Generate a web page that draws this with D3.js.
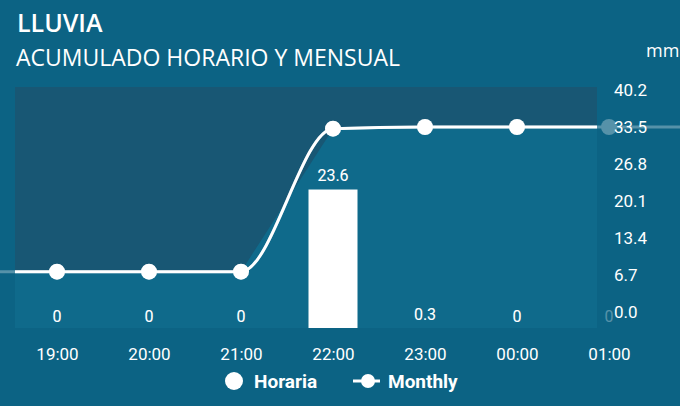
<!DOCTYPE html>
<html>
<head>
<meta charset="utf-8">
<script src="https://cdn.jsdelivr.net/npm/d3@7"></script>
<style>
  body { margin: 0; background: #0c6384; }
  svg { display: block; }
</style>
</head>
<body>
<div id="chart"></div>
<script>
// Chart data
var hours = ["19:00", "20:00", "21:00", "22:00", "23:00", "00:00", "01:00"];
var hourly = [0, 0, 0, 23.6, 0.3, 0, 0];
var monthly = [7.3, 7.3, 7.3, 33.2, 33.5, 33.5, 33.5];
var yTicks = [0, 6.7, 13.4, 20.1, 26.8, 33.5, 40.2];

var svgWidth = 680;
var svgHeight = 406;

// plot box (the visible window of the scrolling chart)
var plot = { left: 15, right: 597, top: 87, bottom: 328 };

var svg = d3.select("#chart")
  .append("svg")
  .attr("width", svgWidth)
  .attr("height", svgHeight);

svg.append("rect")
  .attr("width", svgWidth)
  .attr("height", svgHeight)
  .attr("fill", "#0c6384");

svg.append("clipPath")
  .attr("id", "plotClip")
  .append("rect")
  .attr("x", plot.left)
  .attr("y", plot.top)
  .attr("width", plot.right - plot.left)
  .attr("height", plot.bottom - plot.top);

// Scales
var xScale = d3.scalePoint()
  .domain(hours)
  .range([57, 609]);

// bar baseline sits just under the visible window
var yBar = d3.scaleLinear()
  .domain([0, 40.2])
  .range([331, 90]);

var yLine = d3.scaleLinear()
  .domain([0, 40.2])
  .range([312, 90]);

// Titles
svg.append("text")
  .attr("x", 17)
  .attr("y", 32)
  .attr("fill", "#ffffff")
  .style("font-family", "'Open Sans'")
  .style("font-weight", 600)
  .style("font-size", "25px")
  .text("LLUVIA");

svg.append("text")
  .attr("x", 16)
  .attr("y", 66)
  .attr("fill", "#ffffff")
  .style("font-family", "'Open Sans'")
  .style("font-size", "23px")
  .text("ACUMULADO HORARIO Y MENSUAL");

svg.append("text")
  .attr("x", 646)
  .attr("y", 57)
  .attr("fill", "#ffffff")
  .style("font-family", "'Open Sans'")
  .style("font-size", "18px")
  .text("mm");

// Plot background (upper part darker)
svg.append("rect")
  .attr("x", plot.left)
  .attr("y", plot.top)
  .attr("width", plot.right - plot.left)
  .attr("height", plot.bottom - plot.top)
  .attr("fill", "#185774");

// line points, extended flat past both ends of the window
var pts = hours.map(function(h, i) { return [xScale(h), yLine(monthly[i])]; });
var step = xScale.step();
var ext = [[pts[0][0] - step, pts[0][1]]].concat(pts, [[pts[pts.length - 1][0] + step, pts[pts.length - 1][1]]]);

// area under monthly line
var area = d3.area()
  .x(function(d) { return d[0]; })
  .y0(plot.bottom)
  .y1(function(d) { return d[1]; });

svg.append("path")
  .attr("clip-path", "url(#plotClip)")
  .attr("d", area(ext))
  .attr("fill", "#0f6a8b");

// Right axis
var rightAxis = d3.axisRight(yLine)
  .tickValues(yTicks)
  .tickFormat(d3.format(".1f"))
  .tickSize(0)
  .tickPadding(0);

var yAxisG = svg.append("g")
  .attr("transform", "translate(614,0)")
  .call(rightAxis);
yAxisG.select(".domain").remove();
yAxisG.selectAll("text")
  .attr("fill", "#ffffff")
  .style("font-family", "Roboto")
  .style("font-size", "17px");

// Bottom axis
var bottomAxis = d3.axisBottom(xScale)
  .tickSize(0)
  .tickPadding(0);

var xAxisG = svg.append("g")
  .attr("transform", "translate(0,348)")
  .call(bottomAxis);
xAxisG.select(".domain").remove();
xAxisG.selectAll("text")
  .attr("fill", "#ffffff")
  .style("font-family", "Roboto")
  .style("font-size", "17px");

var barWidth = 49;

// bars only inside the window
svg.append("g")
  .attr("clip-path", "url(#plotClip)")
  .selectAll("rect")
  .data(hourly)
  .enter()
  .append("rect")
  .attr("x", function(d, i) { return xScale(hours[i]) - barWidth / 2; })
  .attr("y", function(d) { return yBar(d); })
  .attr("width", barWidth)
  .attr("height", function(d) { return yBar(0) - yBar(d); })
  .attr("fill", "#ffffff");

// faded copy (outside the window) and clipped full copy
[{ clip: null, op: 0.3 }, { clip: "url(#plotClip)", op: 1 }].forEach(function(layer) {
  var g = svg.append("g")
    .attr("clip-path", layer.clip)
    .attr("opacity", layer.op);

  g.selectAll("text.barLabel")
    .data(hourly)
    .enter()
    .append("text")
    .attr("class", "barLabel")
    .attr("x", function(d, i) { return xScale(hours[i]); })
    .attr("y", function(d) { return yBar(d) - 9; })
    .attr("text-anchor", "middle")
    .attr("fill", "#ffffff")
    .style("font-family", "Roboto")
    .style("font-size", "16px")
    .text(function(d) { return d; });

  g.append("path")
    .attr("d", d3.line().curve(d3.curveMonotoneX)(ext))
    .attr("fill", "none")
    .attr("stroke", "#ffffff")
    .attr("stroke-width", 3);

  g.selectAll("circle")
    .data(pts)
    .enter()
    .append("circle")
    .attr("cx", function(d) { return d[0]; })
    .attr("cy", function(d) { return d[1]; })
    .attr("r", 8)
    .attr("fill", "#ffffff");
});

// Legend
var legend = svg.append("g");
legend.append("circle")
  .attr("cx", 234)
  .attr("cy", 381)
  .attr("r", 9)
  .attr("fill", "#ffffff");
legend.append("text")
  .attr("x", 254)
  .attr("y", 388)
  .attr("fill", "#ffffff")
  .style("font-family", "Roboto")
  .style("font-weight", 700)
  .style("font-size", "19px")
  .text("Horaria");
legend.append("line")
  .attr("x1", 353).attr("x2", 380)
  .attr("y1", 381).attr("y2", 381)
  .attr("stroke", "#ffffff")
  .attr("stroke-width", 3);
legend.append("circle")
  .attr("cx", 368)
  .attr("cy", 381)
  .attr("r", 7)
  .attr("fill", "#ffffff");
legend.append("text")
  .attr("x", 388)
  .attr("y", 388)
  .attr("fill", "#ffffff")
  .style("font-family", "Roboto")
  .style("font-weight", 700)
  .style("font-size", "19px")
  .text("Monthly");
</script>
</body>
</html>
